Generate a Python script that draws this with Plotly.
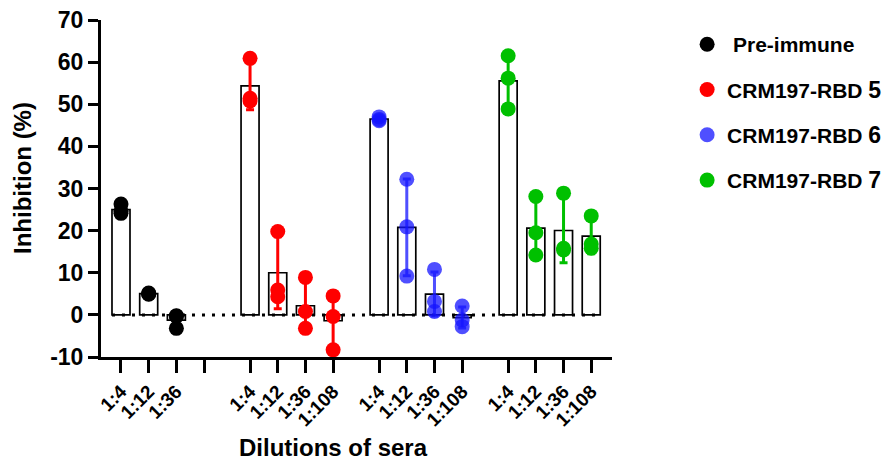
import numpy as np
import plotly.graph_objects as go

# ---------------- data ----------------
dilutions = ["1:4", "1:12", "1:36", "1:108"]
series_names = ["Pre-immune", "CRM197-RBD 5", "CRM197-RBD 6", "CRM197-RBD 7"]

pre_immune = [[26.3, 24.1, 24.6], [5.2, 4.9, 5.0], [-0.2, -0.3, -3.2]]
rbd5 = [[60.9, 51.4, 50.8], [19.8, 5.9, 4.3], [8.9, 0.8, -3.2], [4.5, -0.4, -8.3]]
rbd6 = [[47.0, 46.4, 46.1], [32.2, 20.9, 9.2], [10.8, 3.2, 0.8], [2.1, -1.2, -2.8]]
rbd7 = [[61.5, 56.2, 48.9], [28.1, 19.5, 14.2], [28.9, 15.8, 15.4], [23.5, 16.8, 15.8]]

y_ticks = [-10, 0, 10, 20, 30, 40, 50, 60, 70]

# ---------------- style ----------------
FONT = "Liberation Sans, Arial, sans-serif"
colors = ["#000000", "#FF0000", "rgba(20,20,255,0.75)", "#00C000"]
legend_labels = [
    "\u00a0Pre-immune",
    "CRM197-RBD <span style='font-size:23px'>5</span>",
    "CRM197-RBD <span style='font-size:23px'>6</span>",
    "CRM197-RBD <span style='font-size:23px'>7</span>",
]
group_offset = [0.0, 4.66, 9.32, 13.98]
bar_width = 0.65

all_data = [pre_immune, rbd5, rbd6, rbd7]

fig = go.Figure()

# tick positions / labels (pre-immune has an empty 4th slot)
tickvals, ticktext = [], []
for g, data in enumerate(all_data):
    for i, lab in enumerate(dilutions):
        tickvals.append(group_offset[g] + i)
        ticktext.append(lab if i < len(data) else "")

# bars (mean)
for g, data in enumerate(all_data):
    xs = [group_offset[g] + i for i in range(len(data))]
    means = [float(np.mean(v)) for v in data]
    fig.add_trace(go.Bar(
        x=xs, y=means, width=bar_width, base=0,
        marker=dict(color="white", line=dict(color="black", width=1.7)),
        showlegend=False, hoverinfo="skip",
    ))

# dotted zero line
fig.add_trace(go.Scatter(
    x=[tickvals[0] - bar_width / 2, tickvals[-1] + bar_width / 2], y=[0, 0],
    mode="lines", line=dict(color="black", width=3, dash="3px,7px"),
    showlegend=False, hoverinfo="skip",
))

# error bars (mean +/- SD)
for g, data in enumerate(all_data):
    xs = [group_offset[g] + i for i in range(len(data))]
    means = [float(np.mean(v)) for v in data]
    sds = [float(np.std(v, ddof=1)) for v in data]
    fig.add_trace(go.Scatter(
        x=xs, y=means, mode="markers", marker=dict(size=0.1, color=colors[g], opacity=0),
        error_y=dict(type="data", array=sds, visible=True, color=colors[g], thickness=3, width=4),
        showlegend=False, hoverinfo="skip",
    ))

# individual points
for g, data in enumerate(all_data):
    xs, ys = [], []
    for i, vals in enumerate(data):
        for v in vals:
            xs.append(group_offset[g] + i)
            ys.append(v)
    fig.add_trace(go.Scatter(
        x=xs, y=ys, mode="markers", name=legend_labels[g],
        marker=dict(size=15, color=colors[g], line=dict(width=0)),
        legendgroup=str(g),
    ))

fig.update_layout(
    width=884, height=461,
    margin=dict(l=101, r=272, t=20, b=104, autoexpand=False),
    paper_bgcolor="white", plot_bgcolor="white",
    font=dict(family=FONT, color="black"),
    barmode="overlay",
    showlegend=True,
    legend=dict(
        x=1.147, y=0.988, xanchor="left", yanchor="top",
        font=dict(family=FONT, size=21, color="black", weight="bold"),
        tracegroupgap=15, itemsizing="trace", bgcolor="rgba(0,0,0,0)",
    ),
    xaxis=dict(
        range=[-0.722, 17.73], showgrid=False, zeroline=False,
        showline=True, linewidth=3, linecolor="black",
        ticks="outside", ticklen=13, tickwidth=3, tickcolor="black",
        tickvals=tickvals, ticktext=ticktext, tickangle=-45,
        tickfont=dict(family=FONT, size=19, color="black", weight="bold"),
    ),
    yaxis=dict(
        range=[-10, 70], showgrid=False, zeroline=False,
        showline=True, linewidth=3, linecolor="black",
        ticks="outside", ticklen=10, tickwidth=3, tickcolor="black",
        tickvals=y_ticks, ticktext=[str(t) for t in y_ticks],
        tickfont=dict(family=FONT, size=23, color="black", weight="bold"),
    ),
    annotations=[
        dict(text="Dilutions of sera", xref="paper", yref="paper",
             x=(333 - 101) / 511, y=(357 - 447) / 337, xanchor="center", yanchor="middle",
             showarrow=False, font=dict(family=FONT, size=24, color="black", weight="bold")),
        dict(text="Inhibition (%)", xref="paper", yref="paper", textangle=-90,
             x=(22 - 101) / 511, y=(357 - 178) / 337, xanchor="center", yanchor="middle",
             showarrow=False, font=dict(family=FONT, size=24, color="black", weight="bold")),
    ],
)

fig.write_html("out.html")
